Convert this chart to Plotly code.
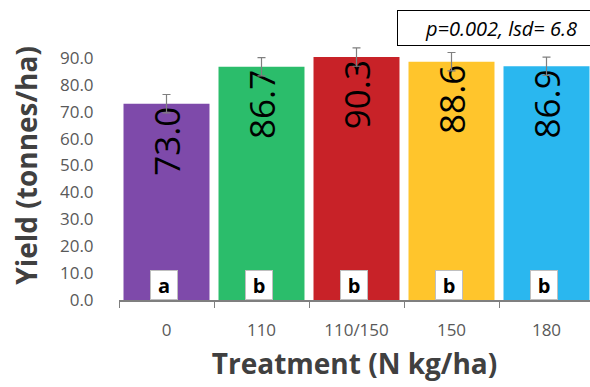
import plotly.graph_objects as go

categories = ["0", "110", "110/150", "150", "180"]
yields = [73.0, 86.7, 90.3, 88.6, 86.9]
errors = [3.4, 3.4, 3.4, 3.4, 3.4]
letters = ["a", "b", "b", "b", "b"]
colors = ["#7E4AAA", "#2BBD6B", "#C82228", "#FFC52C", "#2AB7EF"]
y_ticks = [0, 10, 20, 30, 40, 50, 60, 70, 80, 90]
stats_text = "p=0.002, lsd= 6.8"

W, H = 590, 387
L, R, T, B = 119, 0, 31, 87

fig = go.Figure()
fig.add_trace(go.Bar(
    x=categories, y=yields,
    marker=dict(color=colors, line=dict(width=0)),
    error_y=dict(type="data", array=errors, visible=True, color="#7f7f7f", thickness=1.2, width=4),
    text=[f"{v:.1f}" for v in yields],
    textposition="inside", insidetextanchor="end", textangle=-90,
    insidetextfont=dict(family="Open Sans", size=35, color="black"),
    constraintext="none",
    cliponaxis=False,
))

for i, l in enumerate(letters):
    fig.add_annotation(x=i, y=0, xref="x", yref="y", yanchor="bottom", xanchor="center",
                       text=f"<b>{l}</b>", showarrow=False,
                       font=dict(family="Open Sans", size=20, color="black"),
                       bgcolor="white", bordercolor="#bfbfbf", borderwidth=1,
                       width=26, height=28, borderpad=0, xshift=-3)

plot_w = W - L - R
fig.add_annotation(xref="paper", yref="paper", x=(397 - L) / plot_w, y=1 + (31 - 10) / (H - T - B),
                   xanchor="left", yanchor="top", text=f"<i>{stats_text}</i>", showarrow=False,
                   font=dict(family="Open Sans", size=20, color="black"),
                   bordercolor="black", borderwidth=1, bgcolor="white",
                   width=206, height=34, borderpad=0, align="center")

fig.update_layout(
    width=W, height=H,
    margin=dict(l=L, r=R, t=T, b=B, pad=0, autoexpand=False),
    paper_bgcolor="white", plot_bgcolor="white",
    bargap=0.095,
    showlegend=False,
    xaxis=dict(
        type="category", automargin=False,
        range=[-0.5, 4.5 - 4 / 95], showline=True, linecolor="#7f7f7f", linewidth=1.5,
        ticks="outside", tickson="boundaries", ticklen=6, tickcolor="#7f7f7f",
        ticklabelstandoff=14,
        tickfont=dict(family="Open Sans", size=17, color="#595959"),
        title=dict(text="<b>Treatment (N kg/ha)</b>", font=dict(family="Open Sans", size=28, color="#404040"), standoff=14),
        showgrid=False,
    ),
    yaxis=dict(
        automargin=False,
        range=[0, 100], tickvals=y_ticks, ticktext=[f"{v:.1f}" for v in y_ticks],
        showline=False, showgrid=False, zeroline=False,
        ticks="outside", ticklen=21, tickcolor="rgba(0,0,0,0)",
        tickfont=dict(family="Open Sans", size=17, color="#595959"),
        title=dict(text="<b>Yield (tonnes/ha)</b>", font=dict(family="Open Sans", size=28, color="#404040"), standoff=14),
    ),
)

fig.write_html("out.html", config={"displayModeBar": False},
               post_script="document.body.style.margin='0';")
